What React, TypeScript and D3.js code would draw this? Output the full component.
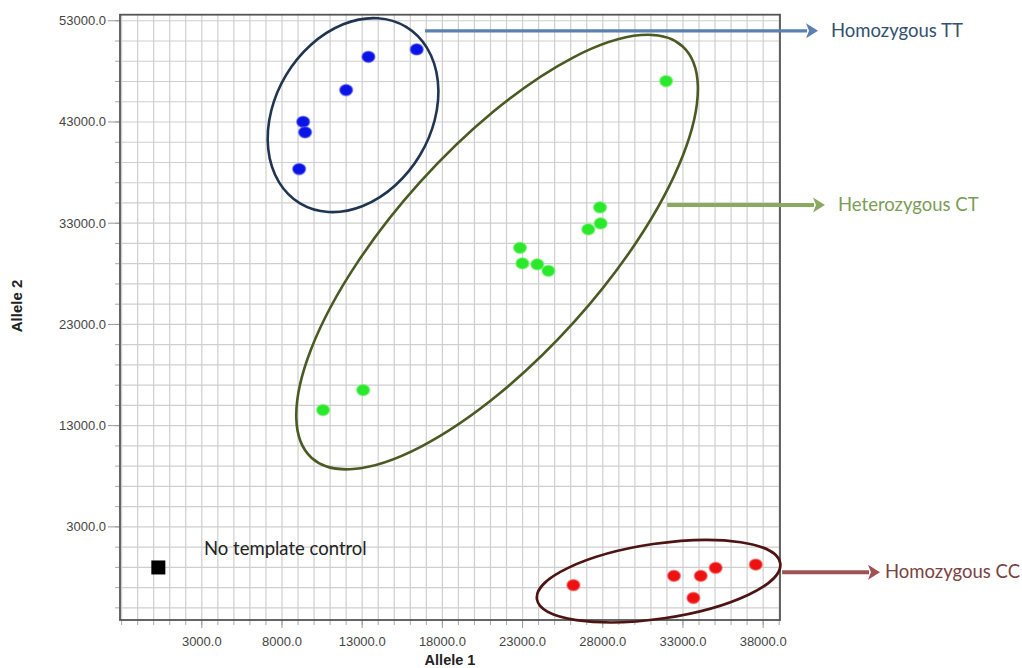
import React from "react";
import * as d3 from "d3";

// ---- data ----
const ttX = [16400, 13390, 12000, 9320, 9440, 9070];
const ttY = [50170, 49440, 46150, 43020, 41980, 38350];

const ctX = [31950, 27830, 27870, 27100, 22840, 22990, 23920, 24610, 13060, 10560];
const ctY = [47040, 34560, 32980, 32390, 30570, 29030, 28930, 28300, 16510, 14540];

const ccX = [26170, 32440, 34110, 35040, 33650, 37540];
const ccY = [-2760, -1840, -1840, -1050, -4020, -720];

const ntcX = [290];
const ntcY = [-1010];

const xTicks = [3000, 8000, 13000, 18000, 23000, 28000, 33000, 38000];
const yTicks = [3000, 13000, 23000, 33000, 43000, 53000];

const groupNames = ["Homozygous TT", "Heterozygous CT", "Homozygous CC"];
// ellipse annotation centres (data units)
const ringCX = [12430, 21410, 31480];
const ringCY = [43680, 30150, -2365];
// arrow anchors (data units)
const arrowX = [16920, 32010, 39180];
const arrowY = [52010, 34790, -1480];

// ---- layout / style ----
const W = 1022, H = 668;
const L = 120, R = 780, T = 14.7, B = 620;
const ringGeom = [
  { rx: 103, ry: 78, rot: -59 },
  { rx: 277, ry: 104, rot: -48 },
  { rx: 123, ry: 37.5, rot: -8.4 },
];
const ringColor = ["#1f3552", "#4a5a22", "#4e1414"];
const arrowTip = [818, 825, 880];
const labelGap = [13, 13, 5];
const arrowColor = ["#5a80b0", "#8aaa62", "#a05252"];
const labelColor = ["#33506f", "#7c9c58", "#7a4242"];
const dotFill = ["#0a14e6", "#2ae82a", "#ee1111"];
const dotHalo = ["#5a60f0", "#7af07a", "#f06a6a"];

export default function App() {
  const x = d3.scaleLinear().domain([-2100, 39050]).range([L, R]);
  const y = d3.scaleLinear().domain([-6200, 53600]).range([B, T]);
  const fmt = d3.format(".1f");
  const xGrid = d3.range(-2000, 39001, 1000);
  const yGrid = d3.range(-5000, 53001, 2000);
  const groups = [
    { xs: ttX, ys: ttY },
    { xs: ctX, ys: ctY },
    { xs: ccX, ys: ccY },
  ];
  const sans = "'Liberation Sans', Arial, sans-serif";
  const ann = "Lato, 'Open Sans', sans-serif";

  return (
    <svg
      width={W}
      height={H}
      style={{ position: "absolute", left: 0, top: 0, display: "block", background: "#fff" }}
    >
      {/* grid */}
      <g stroke="#cfcfcf" strokeWidth={1.2}>
        {xGrid.map((v) => (
          <line key={"gx" + v} x1={x(v)} x2={x(v)} y1={T} y2={B} />
        ))}
        {yGrid.map((v) => (
          <line key={"gy" + v} x1={L} x2={R} y1={y(v)} y2={y(v)} />
        ))}
      </g>
      {/* minor ticks */}
      <g stroke="#aaaaaa" strokeWidth={1}>
        {xGrid.map((v) => (
          <line key={"tx" + v} x1={x(v)} x2={x(v)} y1={B} y2={B + 5} />
        ))}
        {yGrid.map((v) => (
          <line key={"ty" + v} x1={L - 5} x2={L} y1={y(v)} y2={y(v)} />
        ))}
      </g>
      {/* major ticks + labels */}
      <g>
        {xTicks.map((v) => (
          <g key={"mx" + v}>
            <line x1={x(v)} x2={x(v)} y1={B} y2={B + 8} stroke="#999" />
            <text
              x={x(v)}
              y={646}
              textAnchor="middle"
              fontFamily={sans}
              fontSize={13}
              fill="#454545"
            >
              {fmt(v)}
            </text>
          </g>
        ))}
        {yTicks.map((v) => (
          <g key={"my" + v}>
            <line x1={L - 12} x2={L} y1={y(v)} y2={y(v)} stroke="#999" />
            <text
              x={106}
              y={y(v) + 4.5}
              textAnchor="end"
              fontFamily={sans}
              fontSize={13}
              fill="#454545"
            >
              {fmt(v)}
            </text>
          </g>
        ))}
      </g>
      {/* frame */}
      <rect x={L} y={T} width={R - L} height={B - T} fill="none" stroke="#555" strokeWidth={1.8} />

      {/* axis titles */}
      <text x={450} y={665} textAnchor="middle" fontFamily={sans} fontWeight="bold" fontSize={14.5} fill="#222">
        Allele 1
      </text>
      <text
        transform={`translate(22,306) rotate(-90)`}
        textAnchor="middle"
        fontFamily={sans}
        fontWeight="bold"
        fontSize={15}
        fill="#222"
      >
        Allele 2
      </text>

      {/* points */}
      {groups.map((g, gi) =>
        g.xs.map((xv, i) => (
          <ellipse
            key={`p${gi}-${i}`}
            cx={x(xv)}
            cy={y(g.ys[i])}
            rx={6.5}
            ry={5.6}
            fill={dotFill[gi]}
            stroke={dotHalo[gi]}
            strokeOpacity={0.55}
            strokeWidth={1.6}
          />
        ))
      )}
      {ntcX.map((xv, i) => (
        <rect key={"ntc" + i} x={x(xv) - 7} y={y(ntcY[i]) - 7} width={14} height={14} fill="#000" />
      ))}
      <text x={204} y={555} fontFamily={ann} fontSize={18.5} fill="#222">
        No template control
      </text>

      {/* ellipses */}
      {ringGeom.map((r, i) => (
        <ellipse
          key={"ring" + i}
          transform={`translate(${x(ringCX[i])},${y(ringCY[i])}) rotate(${r.rot})`}
          rx={r.rx}
          ry={r.ry}
          fill="none"
          stroke={ringColor[i]}
          strokeWidth={2.6}
        />
      ))}

      {/* arrows + labels */}
      {groupNames.map((name, i) => {
        const sx = x(arrowX[i]);
        const sy = y(arrowY[i]);
        const tip = arrowTip[i];
        const base = tip - 12;
        return (
          <g key={"arr" + i}>
            <line x1={sx} x2={base + 1} y1={sy} y2={sy} stroke={arrowColor[i]} strokeWidth={i === 0 ? 3.2 : 4} />
            <path d={`M${base},${sy - 7.5} L${tip},${sy} L${base},${sy + 7.5} L${base + 3},${sy} Z`} fill={arrowColor[i]} />
            <text x={tip + labelGap[i]} y={sy + 6} fontFamily={ann} fontSize={18.5} fill={labelColor[i]}>
              {name}
            </text>
          </g>
        );
      })}
    </svg>
  );
}
